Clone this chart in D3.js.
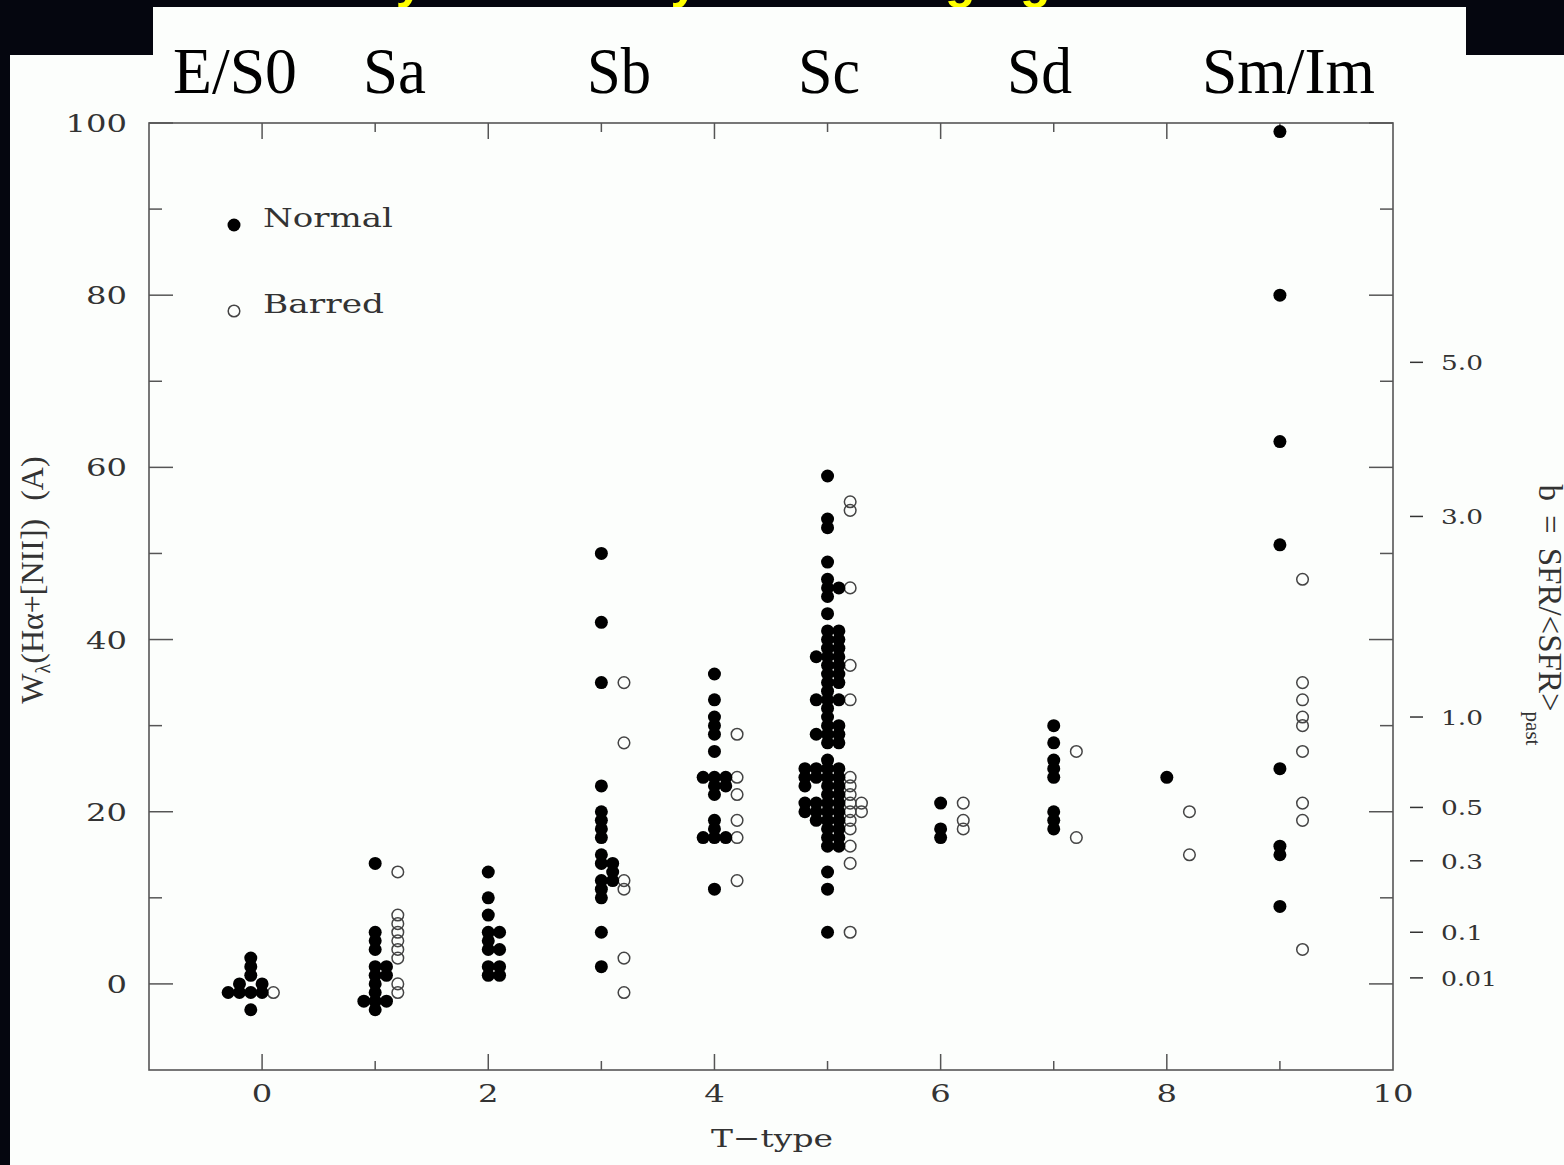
<!DOCTYPE html>
<html>
<head>
<meta charset="utf-8">
<script src="https://cdn.jsdelivr.net/npm/d3@7"></script>
<style>
  html, body { margin: 0; padding: 0; background: #05060f; }
  svg { display: block; }
</style>
</head>
<body>
<div id="chart"></div>
<script>
// W(Ha+[NII]) vs T-type, normal (filled) and barred (open) galaxies
// [T, W] pairs (small offsets in T are as plotted)
const normal = [
  [-0.1,3],[-0.1,2],[-0.1,1],[-0.2,0],[0,0],[-0.3,-1],[-0.2,-1],[-0.1,-1],[0,-1],[-0.1,-3],
  [1,14],[1,6],[1,5],[1,4],[1,2],[1.1,2],[1,1],[1.1,1],[1,0],[1,-1],[0.9,-2],[1,-2],[1.1,-2],[1,-3],
  [2,13],[2,10],[2,8],[2,6],[2.1,6],[2,5],[2,4],[2.1,4],[2,2],[2.1,2],[2,1],[2.1,1],
  [3,50],[3,42],[3,35],[3,23],[3,20],[3,19],[3,18],[3,17],[3,15],[3,14],[3.1,14],[3.1,13],
  [3,12],[3.1,12],[3,11],[3,10],[3,6],[3,2],
  [4,36],[4,33],[4,31],[4,30],[4,29],[4,27],[3.9,24],[4,24],[4.1,24],[4,23],[4.1,23],[4,22],
  [4,19],[4,18],[3.9,17],[4,17],[4.1,17],[4,11],
  [5,59],[5,54],[5,53],[5,49],[5,47],[5,46],[5.1,46],[5,45],[5,43],
  [5,41],[5.1,41],[5,40],[5.1,40],[5,39],[5.1,39],[4.9,38],[5,38],[5.1,38],[5,37],[5.1,37],
  [5,36],[5.1,36],[5,35],[5.1,35],[5,34],[4.9,33],[5,33],[5.1,33],[5,32],[5,31],[5,30],[5.1,30],
  [4.9,29],[5,29],[5.1,29],[5,28],[5.1,28],
  [5,26],[4.8,25],[4.9,25],[5,25],[5.1,25],[4.8,24],[4.9,24],[5,24],[5.1,24],[4.8,23],[5,23],[5.1,23],
  [5,22],[5.1,22],[4.8,21],[4.9,21],[5,21],[5.1,21],[4.8,20],[4.9,20],[5,20],[5.1,20],
  [4.9,19],[5,19],[5.1,19],[5,18],[5.1,18],[5,17],[5.1,17],[5,16],[5.1,16],[5,13],[5,11],[5,6],
  [6,21],[6,18],[6,17],
  [7,30],[7,28],[7,26],[7,25],[7,24],[7,20],[7,19],[7,18],
  [8,24],
  [9,99],[9,80],[9,63],[9,51],[9,25],[9,16],[9,15],[9,9]
];

const barred = [
  [0.1,-1],
  [1.2,13],[1.2,8],[1.2,7],[1.2,6],[1.2,5],[1.2,4],[1.2,3],[1.2,0],[1.2,-1],
  [3.2,35],[3.2,28],[3.2,12],[3.2,11],[3.2,3],[3.2,-1],
  [4.2,29],[4.2,24],[4.2,22],[4.2,19],[4.2,17],[4.2,12],
  [5.2,56],[5.2,55],[5.2,46],[5.2,37],[5.2,33],[5.2,24],[5.2,23],[5.2,22],[5.2,21],[5.3,21],
  [5.2,20],[5.3,20],[5.2,19],[5.2,18],[5.2,16],[5.2,14],[5.2,6],
  [6.2,21],[6.2,19],[6.2,18],
  [7.2,27],[7.2,17],
  [8.2,20],[8.2,15],
  [9.2,47],[9.2,35],[9.2,33],[9.2,31],[9.2,30],[9.2,27],[9.2,21],[9.2,19],[9.2,4]
];

// morphological classes across the top
const morphLabels = ["E/S0", "Sa", "Sb", "Sc", "Sd", "Sm/Im"];
const morphX = [173, 363, 587, 798, 1007, 1202];
const morphW = [124, 63, 64, 62, 65, 173];

// right-hand axis: b = SFR/<SFR>past, placed at the equivalent W value
const bLabels = ["5.0", "3.0", "1.0", "0.5", "0.3", "0.1", "0.01"];
const bAtW = [72.2, 54.3, 31.0, 20.5, 14.3, 6.0, 0.7];

const xTicks = [0, 2, 4, 6, 8, 10];
const yTicks = [0, 20, 40, 60, 80, 100];

// slide title words (mostly hidden behind the label box)
const titleWords = ["Activity", "Trends", "by", "Hubble", "Aging"];
const titleX = [243, 450, 640, 715, 909];

const W = 1564, H = 1165;
const plot = {left: 149, right: 1393, top: 123, bottom: 1070};

const svg = d3.select("#chart").append("svg")
  .attr("width", W).attr("height", H);

// dark slide background
svg.append("rect").attr("width", W).attr("height", H).attr("fill", "#05060f");

// title: only descenders peek out at the top edge
svg.append("text")
  .attr("y", -2)
  .attr("font-family", "Liberation Sans, Arial, sans-serif")
  .attr("font-weight", "bold")
  .attr("font-size", 50)
  .attr("fill", "#ffff00")
  .selectAll("tspan").data(titleWords).join("tspan")
  .attr("x", (d, i) => titleX[i])
  .text(d => d);

// white slide panels
svg.append("rect").attr("x", 10).attr("y", 55).attr("width", W - 10).attr("height", H - 55).attr("fill", "#fcfefc");
svg.append("rect").attr("x", 153).attr("y", 7).attr("width", 1313).attr("height", 106).attr("fill", "#fcfefc");

const x = d3.scaleLinear().domain([-1, 10]).range([plot.left, plot.right]);
const y = d3.scaleLinear().domain([-10, 100]).range([plot.bottom, plot.top]);

const axisColor = "#555";
const g = svg.append("g");

// frame
g.append("rect")
  .attr("x", plot.left).attr("y", plot.top)
  .attr("width", plot.right - plot.left).attr("height", plot.bottom - plot.top)
  .attr("fill", "none").attr("stroke", axisColor).attr("stroke-width", 1.6);

// ticks: inward on all four sides
const xAll = d3.range(0, 10);
const yAll = d3.range(0, 101, 10);
xAll.forEach(t => {
  const len = t % 2 === 0 ? 16 : 9;
  g.append("line").attr("x1", x(t)).attr("x2", x(t)).attr("y1", plot.top).attr("y2", plot.top + len)
    .attr("stroke", axisColor).attr("stroke-width", 1.5);
  g.append("line").attr("x1", x(t)).attr("x2", x(t)).attr("y1", plot.bottom).attr("y2", plot.bottom - len)
    .attr("stroke", axisColor).attr("stroke-width", 1.5);
});
yAll.forEach(v => {
  const len = v % 20 === 0 ? 24 : 13;
  g.append("line").attr("x1", plot.left).attr("x2", plot.left + len).attr("y1", y(v)).attr("y2", y(v))
    .attr("stroke", axisColor).attr("stroke-width", 1.5);
  g.append("line").attr("x1", plot.right).attr("x2", plot.right - len).attr("y1", y(v)).attr("y2", y(v))
    .attr("stroke", axisColor).attr("stroke-width", 1.5);
});

const tickFont = "DejaVu Serif, serif";
const titleFont = "Liberation Serif, Times New Roman, serif";

// tick labels
g.selectAll("text.ylab").data(yTicks).join("text")
  .attr("class", "ylab")
  .attr("x", 127).attr("y", d => y(d) + 9)
  .attr("text-anchor", "end")
  .attr("font-family", tickFont).attr("font-size", 24).attr("fill", "#333")
  .attr("textLength", d => String(d).length * 20.5).attr("lengthAdjust", "spacingAndGlyphs")
  .text(d => d);

g.selectAll("text.xlab").data(xTicks).join("text")
  .attr("class", "xlab")
  .attr("x", d => x(d)).attr("y", 1102)
  .attr("text-anchor", "middle")
  .attr("font-family", tickFont).attr("font-size", 24).attr("fill", "#333")
  .attr("textLength", d => String(d).length * 20.5).attr("lengthAdjust", "spacingAndGlyphs")
  .text(d => d);

// right b axis
bAtW.forEach((w, i) => {
  g.append("line").attr("x1", 1410).attr("x2", 1423).attr("y1", y(w)).attr("y2", y(w))
    .attr("stroke", "#333").attr("stroke-width", 1.5);
  g.append("text")
    .attr("x", 1441).attr("y", y(w) + 8)
    .attr("font-family", tickFont).attr("font-size", 21).attr("fill", "#333")
    .attr("textLength", bLabels[i].length * 14).attr("lengthAdjust", "spacingAndGlyphs")
    .text(bLabels[i]);
});

// axis titles
g.append("text")
  .attr("x", 772).attr("y", 1147)
  .attr("text-anchor", "middle")
  .attr("font-family", tickFont).attr("font-size", 25).attr("fill", "#333")
  .attr("textLength", 122).attr("lengthAdjust", "spacingAndGlyphs")
  .text("T\u2212type");

const yTitle = g.append("text")
  .attr("transform", "translate(43,580) rotate(-90)")
  .attr("text-anchor", "middle")
  .attr("font-family", titleFont)
  .attr("font-size", 32).attr("fill", "#333");
yTitle.append("tspan").text("W");
yTitle.append("tspan").attr("dy", 7).attr("font-size", 20).text("\u03bb");
yTitle.append("tspan").attr("dy", -7).text("(H\u03b1+[NII])");
yTitle.append("tspan").attr("dx", 18).text("(A)");

const bTitle = g.append("text")
  .attr("transform", "translate(1539,615) rotate(90)")
  .attr("text-anchor", "middle")
  .attr("font-family", titleFont)
  .attr("font-size", 33).attr("fill", "#333");
bTitle.append("tspan").text("b");
bTitle.append("tspan").attr("dx", 14).text("=");
bTitle.append("tspan").attr("dx", 14).text("SFR/<SFR>");
bTitle.append("tspan").attr("dy", 13).attr("font-size", 21).text("past");

// legend
g.append("circle").attr("cx", 234).attr("cy", 225).attr("r", 6.5).attr("fill", "#000");
g.append("circle").attr("cx", 234).attr("cy", 311).attr("r", 5.8)
  .attr("fill", "none").attr("stroke", "#444").attr("stroke-width", 1.5);
g.append("text").attr("x", 263).attr("y", 227)
  .attr("font-family", tickFont).attr("font-size", 26).attr("fill", "#333")
  .attr("textLength", 130).attr("lengthAdjust", "spacingAndGlyphs").text("Normal");
g.append("text").attr("x", 263).attr("y", 313)
  .attr("font-family", tickFont).attr("font-size", 26).attr("fill", "#333")
  .attr("textLength", 121).attr("lengthAdjust", "spacingAndGlyphs").text("Barred");

// points
g.selectAll("circle.barred").data(barred).join("circle")
  .attr("class", "barred")
  .attr("cx", d => x(d[0])).attr("cy", d => y(d[1])).attr("r", 5.8)
  .attr("fill", "none").attr("stroke", "#444").attr("stroke-width", 1.5);

g.selectAll("circle.normal").data(normal).join("circle")
  .attr("class", "normal")
  .attr("cx", d => x(d[0])).attr("cy", d => y(d[1])).attr("r", 6.5)
  .attr("fill", "#000");

// morphology labels
svg.selectAll("text.morph").data(morphLabels).join("text")
  .attr("class", "morph")
  .attr("x", (d, i) => morphX[i]).attr("y", 93)
  .attr("font-family", titleFont)
  .attr("font-size", 66).attr("fill", "#000")
  .attr("textLength", (d, i) => morphW[i]).attr("lengthAdjust", "spacingAndGlyphs")
  .text(d => d);
</script>
</body>
</html>
